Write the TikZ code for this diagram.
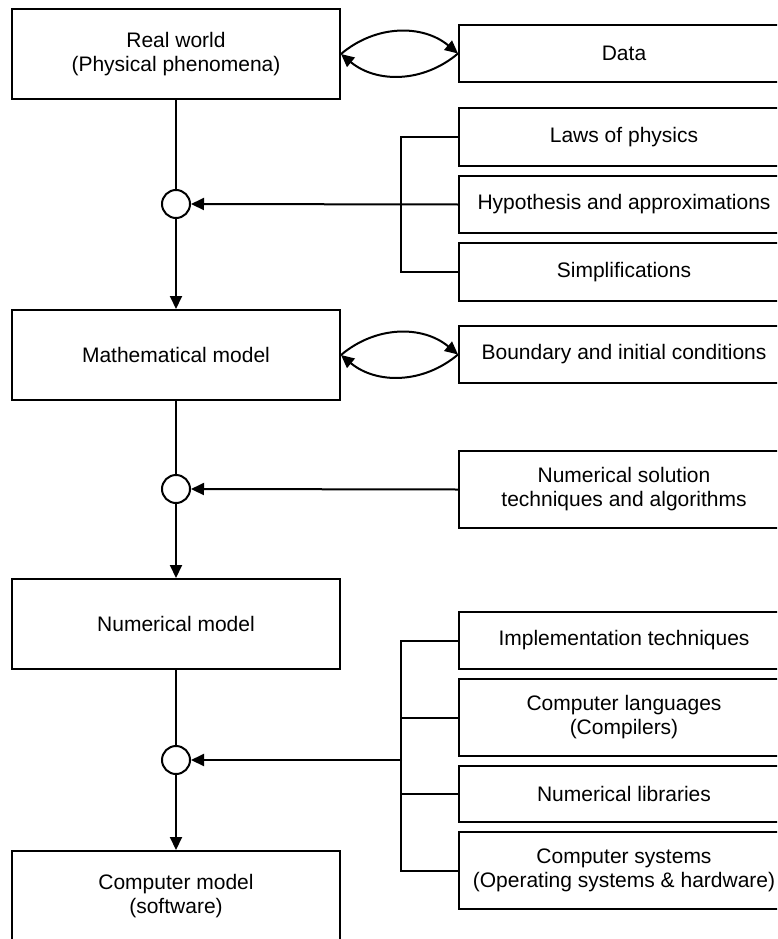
\documentclass[tikz,border=0pt]{standalone}
\usepackage{fontspec}
\setmainfont{Liberation Sans}
\usetikzlibrary{arrows.meta}
\begin{document}
\begin{tikzpicture}[x=1pt,y=-1pt,
  box/.style={draw, line width=2pt, rectangle, align=center, font=\fontsize{21}{24}\selectfont, inner sep=0pt},
  lbox/.style={box, minimum width=328pt, minimum height=90pt},
  rbox/.style={box, minimum width=330pt},
  junc/.style={draw, circle, line width=2pt, minimum size=28pt, inner sep=0pt, fill=white},
  conn/.style={line width=2pt},
  arr/.style={conn, -{Triangle[length=13pt,width=12pt]}},
]
\useasboundingbox (0,0) rectangle (777,939);
\clip (0,0) rectangle (777,939);
% left column
\node[lbox] (rw) at (176,54) {Real world\\(Physical phenomena)};
\node[lbox] (mm) at (176,355) {Mathematical model};
\node[lbox] (nm) at (176,624) {Numerical model};
\node[lbox] (cm) at (176,896) {Computer model\\(software)};
% junctions
\node[junc] (c1) at (176,204) {};
\node[junc] (c2) at (176,489) {};
\node[junc] (c3) at (176,760) {};
% right column
\node[rbox, minimum height=57pt] (data) at (624,53.5) {Data};
\node[rbox, minimum height=58pt] (laws) at (624,137) {Laws of physics};
\node[rbox, minimum height=57pt] (hyp) at (624,204.5) {Hypothesis and approximations};
\node[rbox, minimum height=58pt] (simp) at (624,272) {Simplifications};
\node[rbox, minimum height=57pt] (bnd) at (624,354.5) {Boundary and initial conditions};
\node[rbox, minimum height=77pt] (nst) at (624,489.5) {Numerical solution\\techniques and algorithms};
\node[rbox, minimum height=57pt] (impl) at (624,640.5) {Implementation techniques};
\node[rbox, minimum height=77pt] (clang) at (624,717.5) {Computer languages\\(Compilers)};
\node[rbox, minimum height=56pt] (nlib) at (624,794) {Numerical libraries};
\node[rbox, minimum height=77pt] (csys) at (624,870.5) {Computer systems\\(Operating systems \& hardware)};
% spine
\draw[conn] (rw.south) -- (c1.north);
\draw[arr] (c1.south) -- (mm.north);
\draw[conn] (mm.south) -- (c2.north);
\draw[arr] (c2.south) -- (nm.north);
\draw[conn] (nm.south) -- (c3.north);
\draw[arr] (c3.south) -- (cm.north);
% two-way curves
\draw[arr] (rw.east) to[bend left=40] (data.west);
\draw[arr] (data.west) to[bend left=40] (rw.east);
\draw[arr] (mm.east) to[bend left=40] (bnd.west);
\draw[arr] (bnd.west) to[bend left=40] (mm.east);
% bracket 1
\draw[conn] (laws.west) -- ++(-57,0) |- (simp.west);
\draw[arr] (hyp.west) -- (c1.east);
% numerical solution
\draw[arr] (nst.west) -- (c2.east);
% bracket 2
\coordinate (b2) at (402,760);
\draw[conn] (impl.west) -- ++(-57,0) |- (csys.west);
\draw[conn] (clang.west) -- ++(-57,0);
\draw[conn] (nlib.west) -- ++(-57,0);
\draw[arr] (b2) -- (c3.east);
\end{tikzpicture}
\end{document}
